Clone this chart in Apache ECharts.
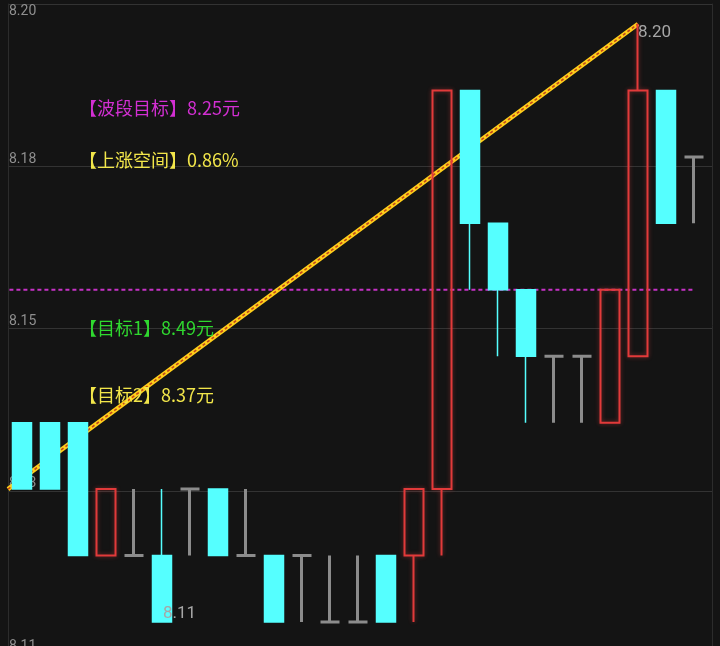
<!DOCTYPE html>
<html>
<head>
<meta charset="utf-8">
<script src="https://cdn.jsdelivr.net/npm/echarts@6/dist/echarts.min.js"></script>
<style>html,body{margin:0;padding:0;background:#141414;}#c{width:720px;height:646px;}</style>
</head>
<body>
<div id="c"></div>
<script>
// ---- data ----
const categories = ['1','2','3','4','5','6','7','8','9','10','11','12','13','14','15','16','17','18','19','20','21','22','23','24','25'];
const opens  = [8.14,8.14,8.14,8.12,8.12,8.12,8.13,8.13,8.12,8.12,8.12,8.11,8.11,8.12,8.12,8.13,8.19,8.17,8.16,8.15,8.15,8.14,8.15,8.19,8.18];
const closes = [8.13,8.13,8.12,8.13,8.12,8.11,8.13,8.12,8.12,8.11,8.12,8.11,8.11,8.11,8.13,8.19,8.17,8.16,8.15,8.15,8.15,8.16,8.19,8.17,8.18];
const lows   = [8.13,8.13,8.12,8.12,8.12,8.11,8.12,8.12,8.12,8.11,8.11,8.11,8.11,8.11,8.11,8.12,8.16,8.15,8.14,8.14,8.14,8.14,8.15,8.17,8.17];
const highs  = [8.14,8.14,8.14,8.13,8.13,8.13,8.13,8.13,8.13,8.12,8.12,8.12,8.12,8.12,8.13,8.19,8.19,8.17,8.16,8.15,8.15,8.16,8.20,8.19,8.18];
const tickLabels = ['8.11','8.13','8.15','8.18','8.20'];
const trendLine = [[-0.5, 8.13], [22, 8.20]];
const targetLevel = 8.16;
const targetLineSpan = [-0.45, 24];
const annotTitles = ['【波段目标】','【上涨空间】','【目标1】','【目标2】'];
const annotValues = ['8.25元','0.86%','8.49元','8.37元'];

// ---- styles ----
const RED = '#e23a3a', CYAN = '#55ffff', GRAY = '#8c8c8c';
const annotColors = ['#d22fd2','#f2e64a','#2fd82f','#f2e64a'];
const annotY = [108, 160, 328, 395];

const candleData = categories.map((c, i) => {
  const o = opens[i], cl = closes[i];
  let st;
  if (cl > o) st = {color:'rgba(0,0,0,0)', color0:'rgba(0,0,0,0)', borderColor:RED, borderColor0:RED, borderColorDoji:RED, borderWidth:2, shadowBlur:4, shadowColor:'rgba(255,70,70,0.45)'};
  else if (cl < o) st = {color:CYAN, color0:CYAN, borderColor:CYAN, borderColor0:CYAN, borderColorDoji:CYAN, borderWidth:1.5};
  else st = {color:GRAY, color0:GRAY, borderColor:GRAY, borderColor0:GRAY, borderColorDoji:GRAY, borderWidth:3};
  return {value:[o, cl, lows[i], highs[i]], itemStyle: st};
});

const chart = echarts.init(document.getElementById('c'), null, {renderer:'canvas'});
const option = {
  backgroundColor:'#141414',
  animation:false,
  grid:[
    {left:8, width:704, top:4, height:649, outerBoundsMode:'none', containLabel:false},
    {left:8, width:700, top:4, height:649, outerBoundsMode:'none', containLabel:false}
  ],
  xAxis:[
    {gridIndex:0, type:'value', min:0, max:1, show:false},
    {gridIndex:1, type:'category', data:categories, boundaryGap:true, show:false},
    {gridIndex:1, type:'value', min:-0.5, max:24.5, show:false}
  ],
  yAxis:[
    {gridIndex:0, type:'value', min:0, max:4, interval:1, position:'left',
     axisLine:{show:true, lineStyle:{color:'#2c2c2c', width:1}},
     axisTick:{show:false},
     splitLine:{show:true, lineStyle:{color:'#333333', width:1}},
     axisLabel:{inside:true, margin:1, color:'#8f8f8f', fontSize:14, fontFamily:'Roboto',
       verticalAlign:'bottom', verticalAlignMaxLabel:'top',
       formatter:(v) => tickLabels[Math.round(v)]}},
    {gridIndex:1, type:'value', min:8.10533, max:8.20301, show:false, scale:true},
    {gridIndex:0, type:'value', min:0, max:4, interval:1, position:'right',
     axisLine:{show:true, lineStyle:{color:'#2c2c2c', width:1}},
     axisTick:{show:false}, axisLabel:{show:false}, splitLine:{show:false}}
  ],
  series:[
    {type:'line', xAxisIndex:2, yAxisIndex:1, z:1, symbol:'none', silent:true,
     data:[[targetLineSpan[0], targetLevel],[targetLineSpan[1], targetLevel]],
     lineStyle:{color:'#c632c6', width:2, type:[4,3]}},
    {type:'line', xAxisIndex:2, yAxisIndex:1, z:1, symbol:'none', silent:true,
     data:trendLine, lineStyle:{color:'#ffcf1a', width:4.5}},
    {type:'line', xAxisIndex:2, yAxisIndex:1, z:1, symbol:'none', silent:true,
     data:trendLine, lineStyle:{color:'#c2461a', width:1.6, type:[3,2.5]}},
    {type:'candlestick', xAxisIndex:1, yAxisIndex:1, z:3, barWidth:19,
     data:candleData,
     markPoint:{
       symbol:'circle', symbolSize:0,
       label:{show:true, position:'right', distance:0, color:'#a6a6a6', fontSize:17, fontFamily:'Roboto',
         formatter:(p) => Number(p.value).toFixed(2)},
       data:[
         {type:'max', valueDim:'highest', label:{offset:[0,9]}},
         {type:'min', valueDim:'lowest', label:{offset:[1,-8]}}
       ]
     }}
  ],
  graphic: annotTitles.map((t, i) => ({
    type:'text', x:79, y:annotY[i], z:10,
    style:{text:t + annotValues[i], fill:annotColors[i], fontSize:18,
      fontFamily:'"Noto Sans CJK SC"', verticalAlign:'middle', align:'left'}
  }))
};
chart.setOption(option);
</script>
</body>
</html>
